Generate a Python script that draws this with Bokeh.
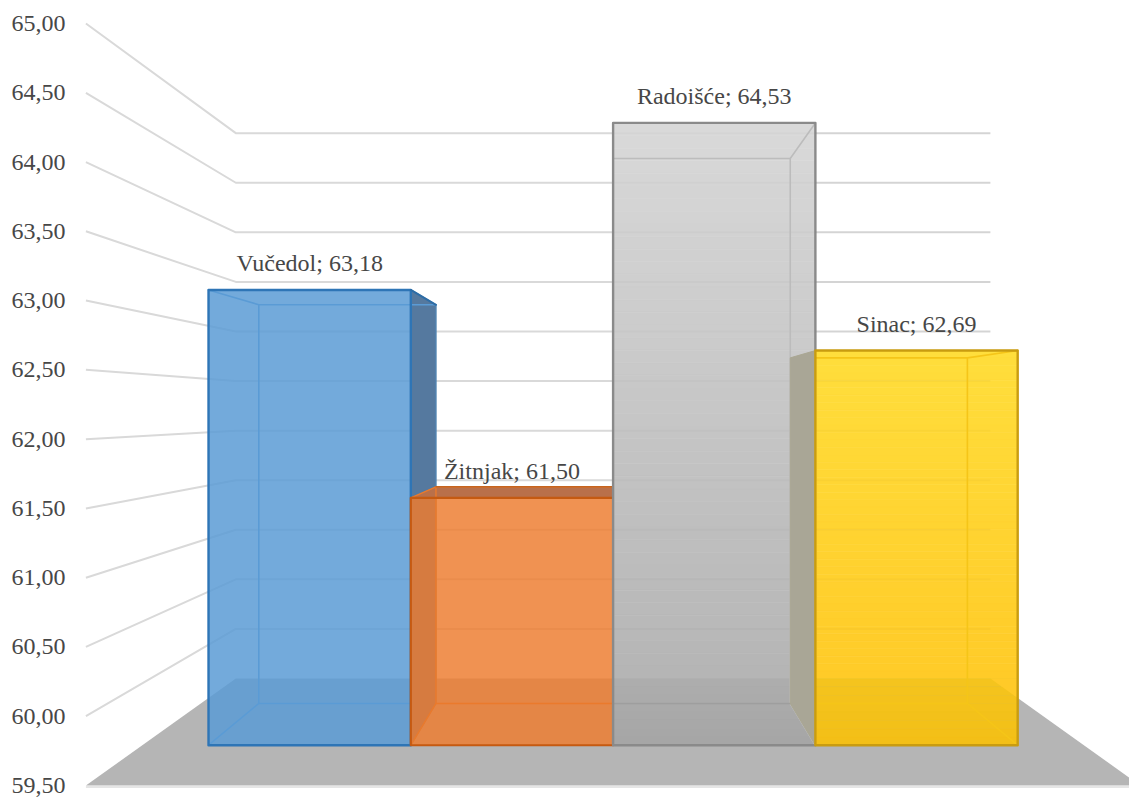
from bokeh.plotting import figure
from bokeh.models import FixedTicker, Range1d, ColumnDataSource
from bokeh.embed import file_html
from bokeh.resources import INLINE
from bokeh.core.properties import value

# ---------- data ----------
categories = ["Vučedol", "Žitnjak", "Radoišće", "Sinac"]
values = [63.18, 61.50, 64.53, 62.69]
tick_values = [59.5, 60.0, 60.5, 61.0, 61.5, 62.0, 62.5, 63.0, 63.5, 64.0, 64.5, 65.0]
tick_labels = ["59,50", "60,00", "60,50", "61,00", "61,50", "62,00",
               "62,50", "63,00", "63,50", "64,00", "64,50", "65,00"]

# ---------- perspective set-up (front plane of the floor has depth ratio 1) ----------
PX = 138.55            # pixels per axis unit on the front plane
CX = 612.6             # pixel of the vanishing point's x
BASE = tick_values[0]
VP_Y = BASE + 2.716    # vanishing point, in axis units
R_BAR_F, R_BAR_B, R_WALL = 0.893, 0.782, 0.7157
BAR_W, WALL_X = 1.635, 3.805
FONT = "Liberation Serif"
TXT = "#474747"


def P(X, v, r):
    return (r * X, VP_Y + r * (v - VP_Y))


def poly(*pts):
    return [q[0] for q in pts], [q[1] for q in pts]


def hexrgb(c):
    return [int(c[i:i + 2], 16) for i in (1, 3, 5)]


def lerp(c0, c1, t):
    a, b = hexrgb(c0), hexrgb(c1)
    return "#%02x%02x%02x" % tuple(round(a[i] + (b[i] - a[i]) * t) for i in range(3))


p = figure(
    width=1129, height=798, output_backend="svg", toolbar_location=None,
    x_range=Range1d((80 - CX) / PX, (1129 - CX) / PX),
    y_range=Range1d(BASE - 5 / PX, tick_values[-1] + 8 / PX),
    x_axis_location=None, y_axis_location="left",
    min_border_left=80, min_border_right=0, min_border_top=15, min_border_bottom=8,
    background_fill_color="white", border_fill_color="white",
)
p.outline_line_color = None
p.grid.visible = False
ax = p.yaxis[0]
ax.ticker = FixedTicker(ticks=tick_values)
ax.major_label_overrides = dict(zip(tick_values, tick_labels))
ax.axis_line_color = None
ax.major_tick_line_color = None
ax.minor_tick_line_color = None
ax.major_tick_out = 0
ax.major_tick_in = 0
ax.major_label_standoff = 15
ax.major_label_text_font = FONT
ax.major_label_text_font_size = "24px"
ax.major_label_text_color = TXT

# ---------- floor ----------
fx, fy = poly(P(-WALL_X, BASE, 1), P(-WALL_X, BASE, R_WALL), P(WALL_X, BASE, R_WALL), P(WALL_X, BASE, 1))
p.patch(fx, fy, fill_color="#b5b5b5", line_color=None)
lx, ly = poly(P(-WALL_X, BASE, 1), P(WALL_X, BASE, 1))
p.line(lx, [y - 1.5 / PX for y in ly], line_color="#dcdcdc", line_width=1.5)

# ---------- grid ----------
for t in tick_values[1:]:
    gx, gy = poly(P(-WALL_X, t, 1), P(-WALL_X, t, R_WALL), P(WALL_X, t, R_WALL))
    p.line(gx, gy, line_color="#d9d9d9", line_width=2)


def face(pts, color, alpha=1.0):
    x, y = poly(*pts)
    p.patch(x, y, fill_color=color, fill_alpha=alpha, line_color=None)


def edges(lines, color, width):
    xs, ys = [], []
    for ln in lines:
        x, y = poly(*ln)
        xs.append(x)
        ys.append(y)
    p.multi_line(xs, ys, line_color=color, line_width=width, line_join="round", line_cap="round")


def gradient(x0, x1, top, bottom_ref, c_top, c_mid, c_low, c_bot):
    """Front face as stacked opaque strips, split at the floor's back edge."""
    wall_y = P(0, BASE, R_WALL)[1]
    upper, lower = 44, 8
    span_u = (top - wall_y) / upper
    for i in range(upper):
        y1 = top - i * span_u
        c = lerp(c_top, c_mid, (i + .5) / upper)
        p.quad(left=x0, right=x1, top=y1, bottom=y1 - span_u, fill_color=c, line_color=c, line_width=0.6)
    span_l = (wall_y - bottom_ref) / lower
    for i in range(lower):
        y1 = wall_y - i * span_l
        c = lerp(c_low, c_bot, (i + .5) / lower)
        p.quad(left=x0, right=x1, top=y1, bottom=y1 - span_l, fill_color=c, line_color=c, line_width=0.6)


def faint_grid(x0, x1):
    limit = WALL_X * R_WALL
    xs, ys = [], []
    for t in tick_values[1:]:
        y = P(0, t, R_WALL)[1]
        xs.append([max(x0, -limit), min(x1, limit)])
        ys.append([y, y])
    p.multi_line(xs, ys, line_color="#000000", line_alpha=0.02, line_width=2)


def box(i):
    XL, XR = BAR_W * (i - 2), BAR_W * (i - 1)
    v = values[i]
    return dict(
        FTL=P(XL, v, R_BAR_F), FTR=P(XR, v, R_BAR_F), FBL=P(XL, BASE, R_BAR_F), FBR=P(XR, BASE, R_BAR_F),
        BTL=P(XL, v, R_BAR_B), BTR=P(XR, v, R_BAR_B), BBL=P(XL, BASE, R_BAR_B), BBR=P(XR, BASE, R_BAR_B),
    )


def left_lines(b):
    return [[b["FTL"], b["BTL"], b["BBL"], b["FBL"]]]


def right_lines(b):
    return [[b["FTR"], b["BTR"], b["BBR"], b["FBR"]]]


def back_lines(b):
    return [[b["BTL"], b["BTR"]], [b["BBL"], b["BBR"]]]


def outer(b):
    return [[b["FTL"], b["FTR"], b["FBR"], b["FBL"], b["FTL"]]]


# ---------- bar 1: blue ----------
b = box(0)
face([b["FTR"], b["BTR"], b["BBR"], b["FBR"]], "#55799f")
edges(right_lines(b), "#4f82b0", 1.4)
edges(left_lines(b) + back_lines(b), "#5b9bd5", 1.6)
face([b["FTL"], b["FTR"], b["FBR"], b["FBL"]], "#5b9bd5", 0.85)
edges(outer(b), "#2e75b6", 2.4)
edges([[b["FTR"], b["BTR"]]], "#2e6da6", 2)

# ---------- bar 2: orange ----------
b = box(1)
face([b["FTL"], b["FTR"], b["FBR"], b["FBL"]], "#ed7d31", 0.84)
face([b["FTL"], b["BTL"], b["BBL"], b["FBL"]], "#d67b40")
face([b["FTL"], b["FTR"], b["BTR"], b["BTL"]], "#b9704a")
edges(left_lines(b) + back_lines(b), "#ea7a2c", 1.4)
edges([[b["BTL"], b["BTR"]]], "#c5641f", 1.4)
edges(outer(b), "#c55a11", 2.2)

# ---------- bar 3: grey ----------
b = box(2)
gradient(b["FTL"][0], b["FTR"][0], b["FTL"][1], b["FBL"][1], "#d9d9d9", "#b5b5b5", "#adadad", "#a6a6a6")
faint_grid(b["FTL"][0], b["FTR"][0])
edges(right_lines(b) + [[b["BTL"], b["BTR"]]], "#bcbcbc", 1.6)
edges([[b["BBL"], b["BBR"]]], "#9e9e9e", 1.4)
edges(outer(b), "#8a8a8a", 2.4)

# ---------- bar 4: yellow ----------
b = box(3)
gradient(b["FTL"][0], b["FTR"][0], b["FTL"][1], b["FBL"][1], "#ffde3c", "#ffcb28", "#f4c41f", "#f3bf16")
# corner of the front face that lies beyond the floor's edge
wx, wy = P(WALL_X, BASE, R_WALL)
ex, ey = P(WALL_X, BASE, 1)
x1 = b["FTR"][0]
face([(wx, wy), (x1, wy), (x1, wy + (ey - wy) * (x1 - wx) / (ex - wx))], "#ffca28")
faint_grid(b["FTL"][0], b["FTR"][0])
face([b["FTL"], b["BTL"], b["BBL"], b["FBL"]], "#a9a696")
edges(left_lines(b), "#aaa793", 1.0)
x0 = b["FTL"][0]
edges(right_lines(b) + [[(x0, b["BTL"][1]), b["BTR"]], [(x0, b["BBL"][1]), b["BBR"]]], "#f5c518", 1.6)
edges(outer(b), "#c99c10", 2.4)

# ---------- data labels ----------
lx, ly, lt = [], [], []
for i, (c, v) in enumerate(zip(categories, values)):
    x, y = P(BAR_W * (i - 1.5), v, R_BAR_F)
    lx.append(x)
    ly.append(y)
    lt.append(f"{c}; {v:.2f}".replace(".", ","))
src = ColumnDataSource(dict(x=lx, y=ly, t=lt))
p.text(x="x", y="y", text="t", source=src, text_align="center", text_baseline="alphabetic",
       y_offset=-27, text_font=value(FONT), text_font_size="24px", text_color=TXT)

open("out.html", "w").write(file_html(p, INLINE))
